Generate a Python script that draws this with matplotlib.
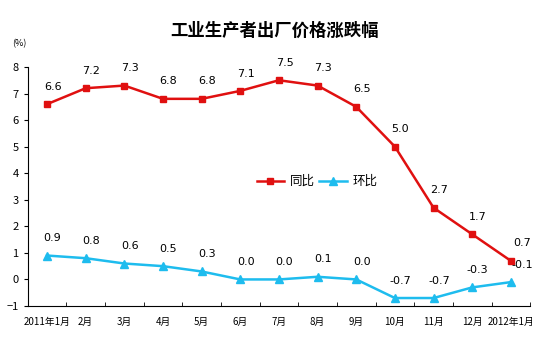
import numpy as np
import matplotlib
matplotlib.use('Agg')
import matplotlib.pyplot as plt

plt.rcParams['font.family'] = ['Noto Sans CJK SC', 'DejaVu Sans']

months = ['2011年1月', '2月', '3月', '4月', '5月', '6月', '7月', '8月', '9月',
          '10月', '11月', '12月', '2012年1月']
yoy = [6.6, 7.2, 7.3, 6.8, 6.8, 7.1, 7.5, 7.3, 6.5, 5.0, 2.7, 1.7, 0.7]
mom = [0.9, 0.8, 0.6, 0.5, 0.3, 0.0, 0.0, 0.1, 0.0, -0.7, -0.7, -0.3, -0.1]

red = '#E01010'
cyan = '#1EBCEE'

fig = plt.figure(figsize=(5.54, 3.62), dpi=100)
ax = fig.add_axes([0.05, 0.1547, 0.907, 0.6603])

x = np.arange(len(months))
ax.plot(x, yoy, color=red, lw=1.8, marker='s', ms=5, label='同比')
ax.plot(x, mom, color=cyan, lw=1.8, marker='^', ms=6, label='环比')

for i in range(len(x)):
    dx = 8 if i == len(x) - 1 else 4
    ax.annotate('%.1f' % yoy[i], (x[i], yoy[i]), xytext=(dx, 12.5),
                textcoords='offset points', ha='center', va='center', fontsize=8,
                family='DejaVu Sans')
    ax.annotate('%.1f' % mom[i], (x[i], mom[i]), xytext=(dx, 12.5),
                textcoords='offset points', ha='center', va='center', fontsize=8,
                family='DejaVu Sans')

ax.set_xlim(-0.5, len(months) - 0.5)
ax.set_ylim(-1, 8)
ax.set_yticks(range(-1, 9))
ax.tick_params(axis='y', labelsize=8, length=3, direction='out')
ax.set_xticks(x)
ax.set_xticklabels(months, fontsize=7)
ax.tick_params(axis='x', length=0, pad=8)
ax.set_xticks(np.arange(-0.5, len(months)), minor=True)
ax.tick_params(axis='x', which='minor', length=3, direction='in')
for s in ['top', 'right']:
    ax.spines[s].set_visible(False)

leg = ax.legend(loc='center', bbox_to_anchor=(0.576, 0.52), ncol=2, frameon=False,
                fontsize=9, handlelength=2.2, columnspacing=0.3, handletextpad=0.5)

fig.text(0.495, 0.915, '工业生产者出厂价格涨跌幅', ha='center', va='center',
         fontsize=12.5, fontweight='bold')
fig.text(0.035, 0.878, '(%)', ha='center', va='center', fontsize=6.5)

fig.savefig('out.png', dpi=100)
